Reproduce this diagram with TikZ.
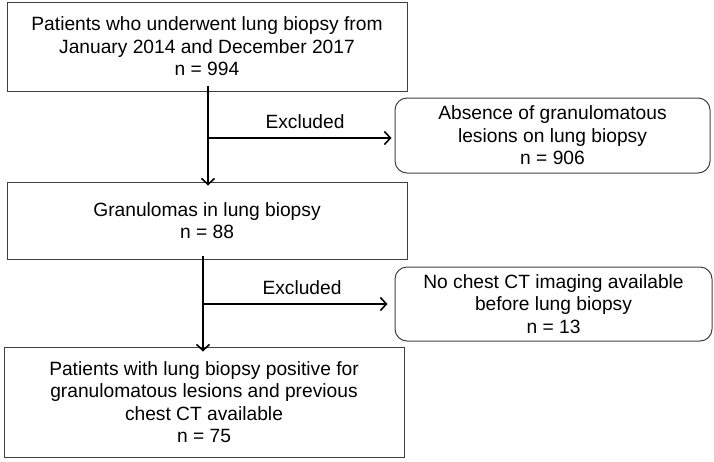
\documentclass[tikz,border=0pt]{standalone}
\usepackage{fontspec}
\setmainfont{Liberation Sans}
\usepackage{xcolor}
\usepackage{tikz}
\usetikzlibrary{arrows.meta}

\begin{document}
\begin{tikzpicture}[x=1pt,y=-1pt,
  font=\fontsize{19.2}{22.5}\selectfont,
  box/.style={draw=black!75,line width=1pt,align=center,inner sep=0pt},
  exbox/.style={box,rounded corners=12pt},
  arr/.style={line width=1.6pt,-{Straight Barb[length=6pt,width=13pt,line width=1.6pt]}}]
\useasboundingbox (0,0) rectangle (714,461);
\node (1) at (207,46.5) [box,minimum width=400,minimum height=89] {Patients who underwent lung biopsy from\\January 2014 and December 2017\\n = 994};
\node (2) at (552.5,135.5) [exbox,minimum width=315,minimum height=75] {Absence of granulomatous\\lesions on lung biopsy\\n = 906};
\node (3) at (207,220.5) [box,minimum width=400,minimum height=77] {Granulomas in lung biopsy\\n = 88};
\node (4) at (553.5,304) [exbox,minimum width=317,minimum height=74] {No chest CT imaging available\\before lung biopsy\\n = 13};
\node (5) at (204,402) [box,minimum width=400,minimum height=110] {Patients with lung biopsy positive for\\granulomatous lesions and previous\\chest CT available\\n = 75};
\node (e1) at (305,122) {Excluded};
\node (e2) at (302,288) {Excluded};
\coordinate (j1) at (208,138);
\coordinate (j2) at (203,304);
\draw [arr] ([xshift=1,yshift=6]1.south) -- ([xshift=1,yshift=-4]3.north);
\draw [arr] (j1) -- ([xshift=-3]2.west |- j1);
\draw [arr] ([xshift=-4,yshift=4]3.south) -- ([xshift=-1,yshift=-5]5.north);
\draw [arr] (j2) -- ([xshift=-7]4.west |- j2);
\end{tikzpicture}
\end{document}
